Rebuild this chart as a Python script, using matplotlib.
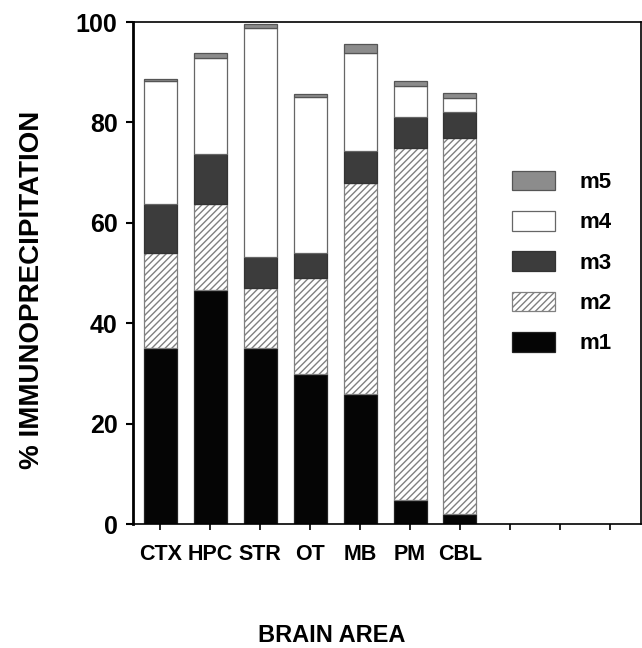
import matplotlib
matplotlib.use("Agg")
import matplotlib.pyplot as plt
import numpy as np

plt.rcParams["font.family"] = ["Liberation Sans", "DejaVu Sans"]
plt.rcParams["font.weight"] = "bold"
plt.rcParams["hatch.linewidth"] = 1.0

# brain areas (10 slots on the axis, only 7 used)
areas = ["CTX", "HPC", "STR", "OT", "MB", "PM", "CBL", "", "", ""]

# % immunoprecipitation per receptor subtype (stacked, bottom to top)
m1 = [35.0, 46.7, 35.0, 30.0, 26.0, 4.8, 2.0]
m2 = [19.0, 17.0, 12.0, 19.0, 42.0, 70.1, 75.0]
m3 = [9.8, 10.0, 6.2, 5.0, 6.4, 6.1, 5.0]
m4 = [24.4, 19.1, 45.6, 31.1, 19.5, 6.2, 2.8]
m5 = [0.4, 1.0, 0.8, 0.6, 1.8, 1.0, 1.0]

series = [m1, m2, m3, m4, m5]
labels = ["m1", "m2", "m3", "m4", "m5"]
colors = ["#050505", "white", "#3c3c3c", "white", "#8c8c8c"]
edges = ["#222222", "#808080", "#333333", "#666666", "#555555"]
hatches = [None, "/////", None, None, None]

fig = plt.figure(figsize=(6.42, 6.48), dpi=100)
ax = fig.add_axes([0.207, 0.191, 0.791, 0.775])

x = np.arange(len(m1))
bottom = np.zeros(len(m1))
handles = []
for vals, lab, c, e, h in zip(series, labels, colors, edges, hatches):
    b = ax.bar(x, vals, width=0.66, bottom=bottom, color=c, edgecolor=e,
               linewidth=0.9, hatch=h, label=lab)
    bottom += np.array(vals)
    handles.append(b)

ax.set_xlim(-0.55, 9.62)
ax.set_ylim(0, 100)
ax.set_xticks(np.arange(len(areas)))
ax.set_xticklabels(areas, fontsize=15.5, fontweight="bold")
ax.set_yticks([0, 20, 40, 60, 80, 100])
ax.tick_params(axis="y", labelsize=18, direction="out", length=5, width=1.5, pad=6)
ax.tick_params(axis="x", direction="out", length=4, width=1.2, pad=10)
for s in ax.spines.values():
    s.set_linewidth(1.2)
ax.spines["left"].set_linewidth(2)

ax.set_ylabel("% IMMUNOPRECIPITATION", fontsize=20, fontweight="bold")
ax.yaxis.set_label_coords(-0.173, 0.466)
fig.text(0.517, 1 - 635 / 648, "BRAIN AREA", fontsize=17, fontweight="bold",
         ha="center", va="center")

leg = ax.legend(handles[::-1], labels[::-1], loc="upper left",
                bbox_to_anchor=(0.708, 0.744), frameon=False, fontsize=16,
                handlelength=1.9, handleheight=1.0, labelspacing=0.8,
                handletextpad=1.1)

fig.savefig("out.png", dpi=100)
